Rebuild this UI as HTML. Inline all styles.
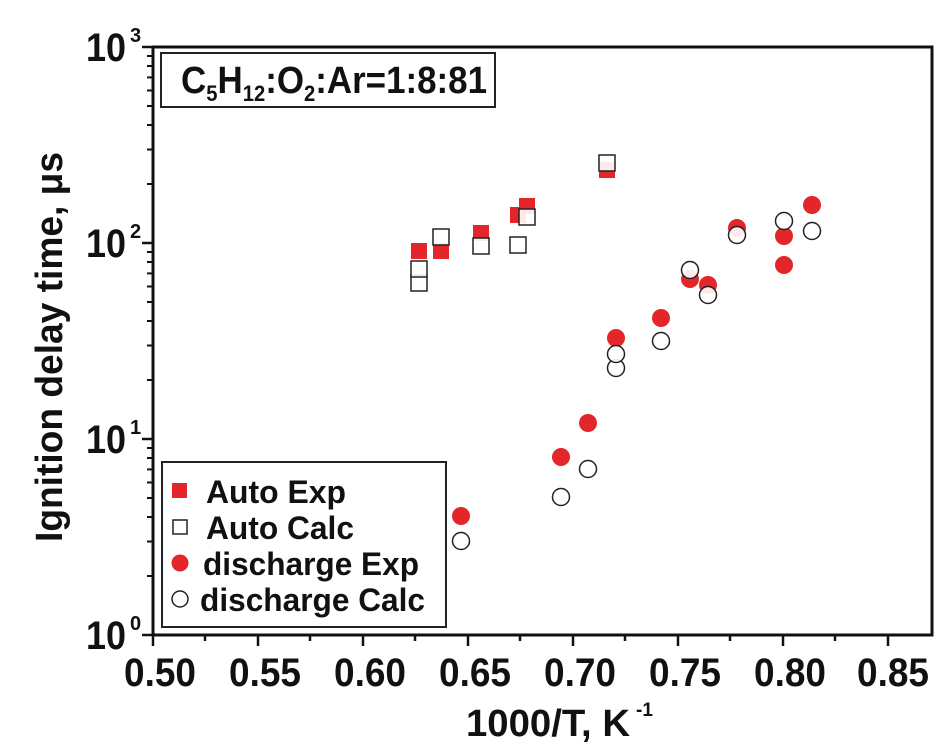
<!DOCTYPE html>
<html><head><meta charset="utf-8"><style>
html,body{margin:0;padding:0;background:#fff;width:945px;height:746px;overflow:hidden}
svg{display:block}
text{font-family:"Liberation Sans",Arial,sans-serif;font-weight:bold;fill:#111}
</style></head><body>
<svg width="945" height="746" viewBox="0 0 945 746" xmlns="http://www.w3.org/2000/svg">
<rect x="153" y="47" width="779" height="588" fill="none" stroke="#111" stroke-width="3"/>
<g stroke="#111" stroke-width="2.5">
<line x1="153" y1="635" x2="153" y2="646"/><line x1="258" y1="635" x2="258" y2="646"/><line x1="363" y1="635" x2="363" y2="646"/><line x1="468" y1="635" x2="468" y2="646"/><line x1="573" y1="635" x2="573" y2="646"/><line x1="678" y1="635" x2="678" y2="646"/><line x1="783" y1="635" x2="783" y2="646"/><line x1="888" y1="635" x2="888" y2="646"/>
<line x1="205" y1="635" x2="205" y2="641"/><line x1="310" y1="635" x2="310" y2="641"/><line x1="415" y1="635" x2="415" y2="641"/><line x1="520" y1="635" x2="520" y2="641"/><line x1="625" y1="635" x2="625" y2="641"/><line x1="730" y1="635" x2="730" y2="641"/><line x1="835" y1="635" x2="835" y2="641"/>
<line x1="142" y1="47" x2="153" y2="47"/><line x1="142" y1="243" x2="153" y2="243"/><line x1="142" y1="439" x2="153" y2="439"/><line x1="142" y1="635" x2="153" y2="635"/>
</g>
<g stroke="#111" stroke-width="2">
<line x1="147" y1="576" x2="153" y2="576"/><line x1="147" y1="541.5" x2="153" y2="541.5"/><line x1="147" y1="517" x2="153" y2="517"/><line x1="147" y1="498" x2="153" y2="498"/><line x1="147" y1="482.5" x2="153" y2="482.5"/><line x1="147" y1="469.4" x2="153" y2="469.4"/><line x1="147" y1="458" x2="153" y2="458"/><line x1="147" y1="448" x2="153" y2="448"/>
<line x1="147" y1="380" x2="153" y2="380"/><line x1="147" y1="345.5" x2="153" y2="345.5"/><line x1="147" y1="321" x2="153" y2="321"/><line x1="147" y1="302" x2="153" y2="302"/><line x1="147" y1="286.5" x2="153" y2="286.5"/><line x1="147" y1="273.4" x2="153" y2="273.4"/><line x1="147" y1="262" x2="153" y2="262"/><line x1="147" y1="252" x2="153" y2="252"/>
<line x1="147" y1="184" x2="153" y2="184"/><line x1="147" y1="149.5" x2="153" y2="149.5"/><line x1="147" y1="125" x2="153" y2="125"/><line x1="147" y1="106" x2="153" y2="106"/><line x1="147" y1="90.5" x2="153" y2="90.5"/><line x1="147" y1="77.4" x2="153" y2="77.4"/><line x1="147" y1="66" x2="153" y2="66"/><line x1="147" y1="56" x2="153" y2="56"/>
</g>
<g font-size="40" text-anchor="middle" lengthAdjust="spacingAndGlyphs">
<text x="160" y="686" textLength="72" lengthAdjust="spacingAndGlyphs">0.50</text><text x="265" y="686" textLength="72" lengthAdjust="spacingAndGlyphs">0.55</text><text x="370" y="686" textLength="72" lengthAdjust="spacingAndGlyphs">0.60</text><text x="475" y="686" textLength="72" lengthAdjust="spacingAndGlyphs">0.65</text><text x="580" y="686" textLength="72" lengthAdjust="spacingAndGlyphs">0.70</text><text x="685" y="686" textLength="72" lengthAdjust="spacingAndGlyphs">0.75</text><text x="790" y="686" textLength="72" lengthAdjust="spacingAndGlyphs">0.80</text><text x="893" y="686" textLength="72" lengthAdjust="spacingAndGlyphs">0.85</text>
</g>
<g font-size="40">
<text x="86" y="61" textLength="40" lengthAdjust="spacingAndGlyphs">10</text><text x="86" y="257" textLength="40" lengthAdjust="spacingAndGlyphs">10</text><text x="86" y="453" textLength="40" lengthAdjust="spacingAndGlyphs">10</text><text x="86" y="649" textLength="40" lengthAdjust="spacingAndGlyphs">10</text>
</g>
<g font-size="20">
<text x="130" y="42">3</text><text x="130" y="238">2</text><text x="130" y="434">1</text><text x="130" y="630">0</text>
</g>
<text x="466" y="736" font-size="38" textLength="164" lengthAdjust="spacingAndGlyphs">1000/T, K</text><text x="636" y="716" font-size="19">-1</text>
<text transform="translate(62,347) rotate(-90)" font-size="38" text-anchor="middle" textLength="390" lengthAdjust="spacingAndGlyphs">Ignition delay time, μs</text>
<rect x="161" y="53" width="334" height="54" fill="#fff" stroke="#222" stroke-width="2"/>
<text x="181" y="93" font-size="38" textLength="306" lengthAdjust="spacingAndGlyphs">C<tspan font-size="22" dy="8">5</tspan><tspan dy="-8">H</tspan><tspan font-size="22" dy="8">12</tspan><tspan dy="-8">:O</tspan><tspan font-size="22" dy="8">2</tspan><tspan dy="-8">:Ar=1:8:81</tspan></text>
<g fill="#e3262a">
<rect x="411" y="243" width="16" height="16"/><rect x="433" y="243" width="16" height="16"/><rect x="473" y="225" width="16" height="16"/><rect x="510" y="207" width="16" height="16"/><rect x="519" y="198" width="16" height="16"/><rect x="599" y="162" width="16" height="16"/>
<circle cx="461" cy="516" r="9"/><circle cx="561" cy="457" r="9"/><circle cx="588" cy="423" r="9"/><circle cx="616" cy="338" r="9"/><circle cx="661" cy="318" r="9"/><circle cx="690" cy="279" r="9"/><circle cx="708" cy="285" r="9"/><circle cx="737" cy="228" r="9"/><circle cx="784" cy="265" r="9"/><circle cx="784" cy="236" r="9"/><circle cx="812" cy="205" r="9"/>
</g>
<g fill="#fff" fill-opacity="0.9" stroke="#222" stroke-width="1.5">
<rect x="411" y="275" width="16" height="16"/><rect x="411" y="261" width="16" height="16"/><rect x="433" y="229" width="16" height="16"/><rect x="473" y="238" width="16" height="16"/><rect x="510" y="237" width="16" height="16"/><rect x="519" y="209" width="16" height="16"/><rect x="599" y="155" width="16" height="16"/>
<circle cx="461" cy="541" r="8.5"/><circle cx="561" cy="497" r="8.5"/><circle cx="588" cy="469" r="8.5"/><circle cx="616" cy="368" r="8.5"/><circle cx="616" cy="354" r="8.5"/><circle cx="661" cy="341" r="8.5"/><circle cx="690" cy="270" r="8.5"/><circle cx="708" cy="295" r="8.5"/><circle cx="737" cy="235" r="8.5"/><circle cx="784" cy="221" r="8.5"/><circle cx="812" cy="231" r="8.5"/>
</g>
<rect x="162" y="462" width="284" height="165" fill="#fff" stroke="#222" stroke-width="2"/>
<rect x="172" y="483" width="15" height="15" fill="#e3262a"/>
<rect x="173" y="520" width="14" height="14" fill="#fff" stroke="#222" stroke-width="1.5"/>
<circle cx="180" cy="563" r="8.5" fill="#e3262a"/>
<circle cx="180" cy="599" r="8" fill="#fff" stroke="#222" stroke-width="1.5"/>
<g font-size="32"><text x="206" y="503" textLength="140" lengthAdjust="spacingAndGlyphs">Auto Exp</text><text x="206" y="539" textLength="148" lengthAdjust="spacingAndGlyphs">Auto Calc</text><text x="203" y="575" textLength="216" lengthAdjust="spacingAndGlyphs">discharge Exp</text><text x="200" y="611" textLength="225" lengthAdjust="spacingAndGlyphs">discharge Calc</text></g>
</svg>
</body></html>
